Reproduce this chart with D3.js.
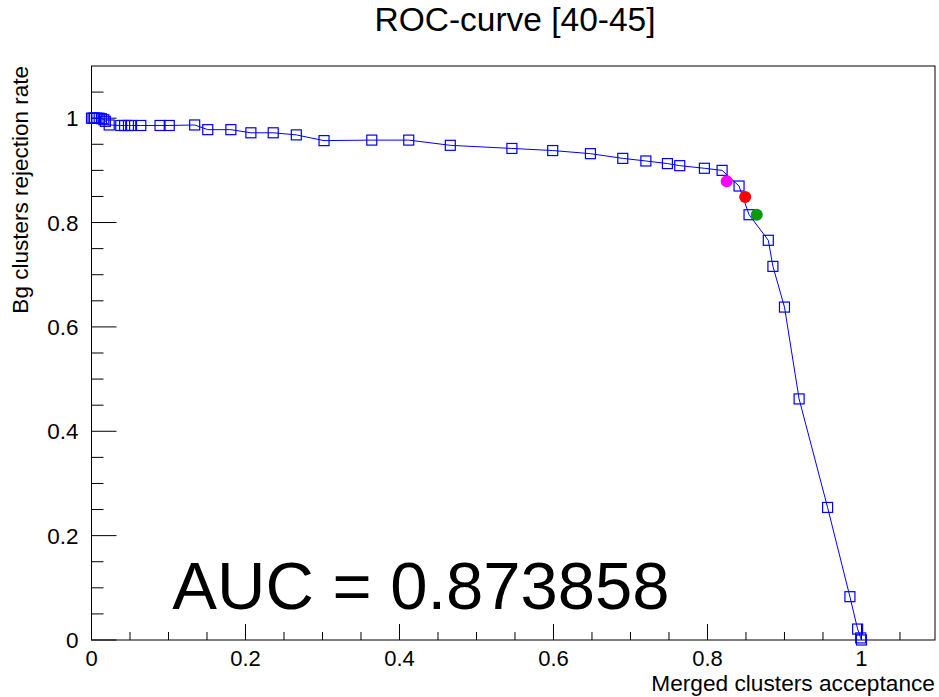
<!DOCTYPE html>
<html>
<head>
<meta charset="utf-8">
<script src="https://cdn.jsdelivr.net/npm/d3@7"></script>
<style>
  body { margin: 0; background: #fff; }
  text { font-family: "Liberation Sans", Arial, sans-serif; }
</style>
</head>
<body>
<div id="chart" style="width:939px;height:697px;"></div>
<script>
// ROC curve points (acceptance, rejection)
const acceptance = [0.000, 0.002, 0.004, 0.007, 0.010, 0.013, 0.016, 0.018, 0.023, 0.038,
    0.043, 0.048, 0.052, 0.064, 0.089, 0.101, 0.134, 0.151, 0.181, 0.207,
    0.236, 0.266, 0.302, 0.364, 0.412, 0.466, 0.546, 0.599, 0.648, 0.690,
    0.720, 0.748, 0.764, 0.796, 0.819, 0.841, 0.854, 0.879, 0.885, 0.900,
    0.919, 0.956, 0.985, 0.995, 0.999, 1.000];
const rejection = [1.000, 1.000, 1.000, 1.000, 1.000, 0.999, 0.997, 0.994, 0.987, 0.986,
    0.986, 0.986, 0.986, 0.986, 0.986, 0.986, 0.987, 0.978, 0.978, 0.972,
    0.972, 0.968, 0.957, 0.958, 0.958, 0.948, 0.942, 0.938, 0.932, 0.923,
    0.918, 0.913, 0.909, 0.904, 0.900, 0.870, 0.815, 0.766, 0.716, 0.638,
    0.462, 0.254, 0.083, 0.021, 0.004, 0.000];

// highlighted working points
const workX = [0.825, 0.849, 0.864];
const workY = [0.879, 0.849, 0.815];
const workColors = ["#ff00ff", "#ff0000", "#089a08"];

const xTicks = [0, 0.2, 0.4, 0.6, 0.8, 1];
const yTicks = [0, 0.2, 0.4, 0.6, 0.8, 1];
const aucLabel = "AUC = 0.873858";

const data = acceptance.map((a, i) => ({x: a, y: rejection[i]}));
const work = workX.map((a, i) => ({x: a, y: workY[i], c: workColors[i]}));

const svg = d3.select("#chart").append("svg")
    .attr("width", 939).attr("height", 697);

const margin = {top: 66, right: 4, bottom: 57, left: 91.5},
      width = 939 - margin.left - margin.right,
      height = 697 - margin.top - margin.bottom;

const g = svg.append("g")
    .attr("transform", "translate(" + margin.left + "," + margin.top + ")");

const x = d3.scaleLinear().domain([0, 1.0955]).range([0, width]);
const y = d3.scaleLinear().domain([0, 1.1]).range([height, 0]);

// minor ticks every 0.05
const minor = d3.range(0, 1.1, 0.05).filter(v => Math.abs(v * 5 - Math.round(v * 5)) > 1e-6);

// X axis ticks
g.append("g").selectAll("line").data(xTicks).join("line")
    .attr("x1", d => x(d)).attr("x2", d => x(d))
    .attr("y1", height).attr("y2", height - 16)
    .attr("stroke", "#000");
g.append("g").selectAll("line").data(minor.filter(v => v < 1.09)).join("line")
    .attr("x1", d => x(d)).attr("x2", d => x(d))
    .attr("y1", height).attr("y2", height - 8)
    .attr("stroke", "#000");
g.append("g").selectAll("text").data(xTicks).join("text")
    .attr("x", d => x(d)).attr("y", height + 26)
    .attr("text-anchor", "middle")
    .attr("font-size", 22)
    .text(d => d3.format("~g")(d));

// Y axis ticks
g.append("g").selectAll("line").data(yTicks).join("line")
    .attr("x1", 0).attr("x2", 25)
    .attr("y1", d => y(d)).attr("y2", d => y(d))
    .attr("stroke", "#000");
g.append("g").selectAll("line").data(minor).join("line")
    .attr("x1", 0).attr("x2", 12)
    .attr("y1", d => y(d)).attr("y2", d => y(d))
    .attr("stroke", "#000");
g.append("g").selectAll("text").data(yTicks).join("text")
    .attr("x", -13).attr("y", d => y(d) + 8)
    .attr("text-anchor", "end")
    .attr("font-size", 22.5)
    .text(d => d3.format("~g")(d));

// frame
g.append("rect")
    .attr("width", width).attr("height", height)
    .attr("fill", "none").attr("stroke", "#000").attr("stroke-width", 1);

// curve
g.append("path")
    .datum(data)
    .attr("fill", "none")
    .attr("stroke", "#0000ff")
    .attr("stroke-width", 1)
    .attr("d", d3.line().x(d => x(d.x)).y(d => y(d.y)));

g.append("g").selectAll("rect").data(data).join("rect")
    .attr("x", d => x(d.x) - 5).attr("y", d => y(d.y) - 5)
    .attr("width", 10).attr("height", 10)
    .attr("fill", "none").attr("stroke", "#0000ff").attr("stroke-width", 1.2);

g.append("g").selectAll("circle").data(work).join("circle")
    .attr("cx", d => x(d.x)).attr("cy", d => y(d.y))
    .attr("r", 6)
    .attr("fill", d => d.c);

// texts
svg.append("text")
    .attr("x", 515).attr("y", 31)
    .attr("text-anchor", "middle")
    .attr("font-size", 33.5)
    .text("ROC-curve [40-45]");

svg.append("text")
    .attr("transform", "translate(28," + margin.top + ") rotate(-90)")
    .attr("text-anchor", "end")
    .attr("font-size", 22.5)
    .text("Bg clusters rejection rate");

svg.append("text")
    .attr("x", margin.left + width).attr("y", 691)
    .attr("text-anchor", "end")
    .attr("font-size", 22.7)
    .text("Merged clusters acceptance");

g.append("text")
    .attr("x", x(0.105)).attr("y", y(0.06))
    .attr("font-size", 67)
    .text(aucLabel);
</script>
</body>
</html>
